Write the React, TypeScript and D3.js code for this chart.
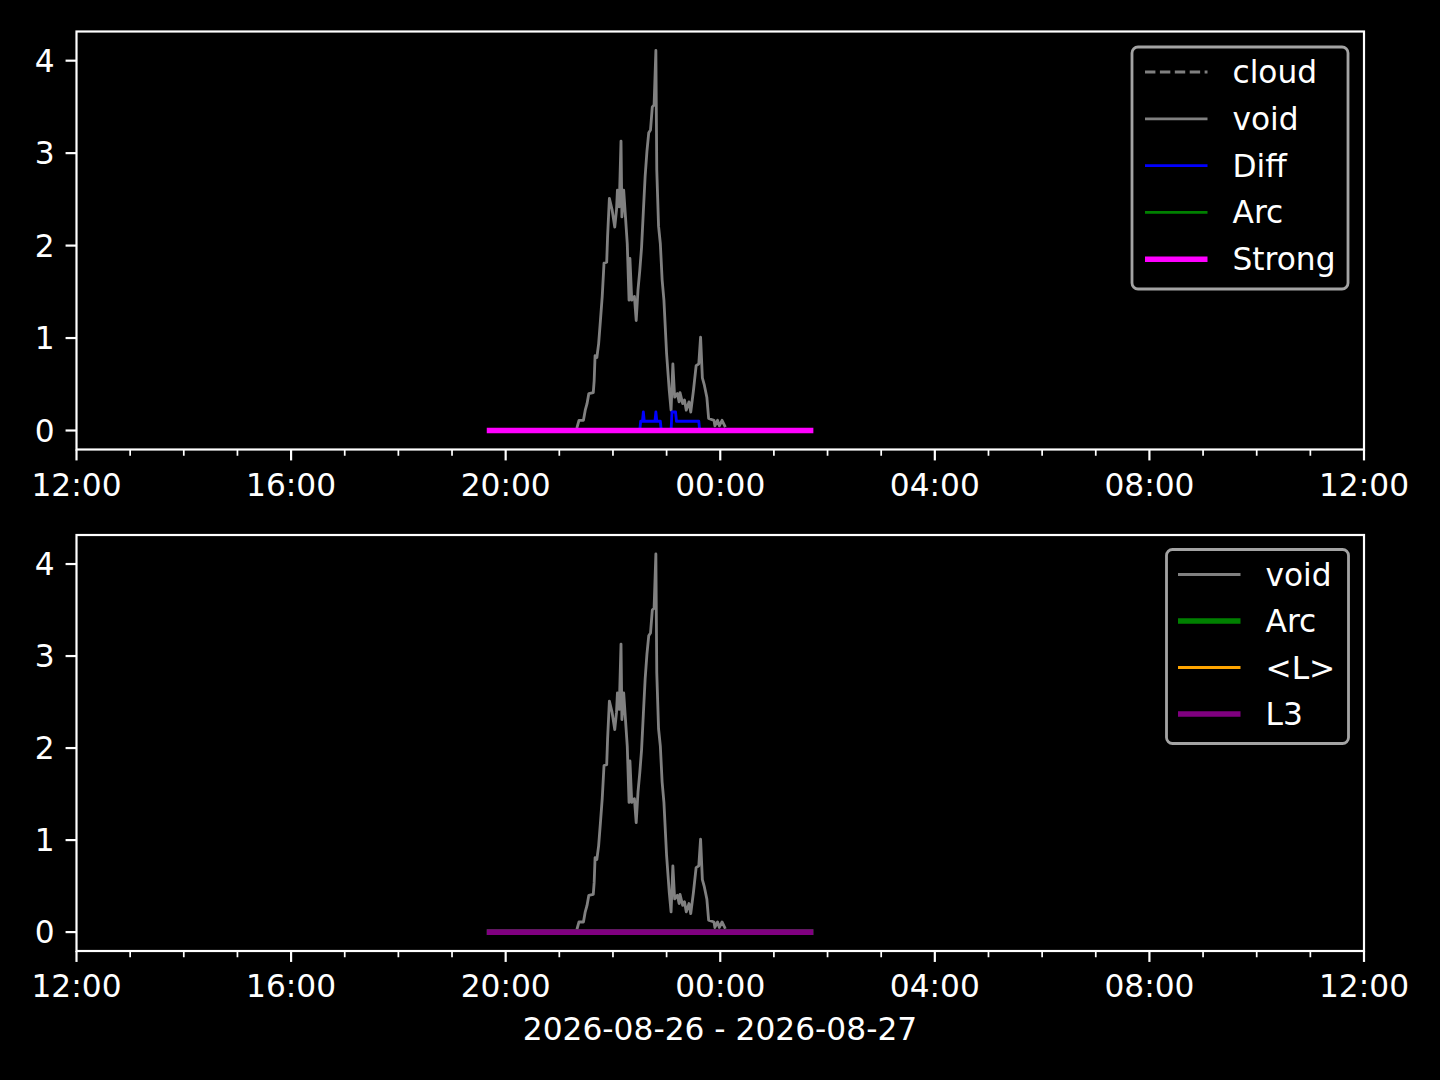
import * as d3 from 'd3';

// time of day, rolled to the next day when before noon
const DAY0 = '2026-08-26';
const DAY1 = '2026-08-27';
const parse = d3.timeParse('%Y-%m-%d %H:%M');
const at = (hm: string) => parse(`${+hm.slice(0, 2) < 12 ? DAY1 : DAY0} ${hm}`) as Date;

const xStart = '12:00';
const xEnd = '12:00';
const xTickLabels = ['12:00', '16:00', '20:00', '00:00', '04:00', '08:00', '12:00'];
const yTicks = [0, 1, 2, 3, 4];
const xLabel = '2026-08-26 - 2026-08-27';

const voidTimes = [
    '21:20', '21:22', '21:27', '21:29', '21:31', '21:33', '21:38', '21:39', '21:40', '21:42',
    '21:44', '21:46', '21:48', '21:50', '21:53', '21:54', '21:56', '21:59', '22:02', '22:04',
    '22:05', '22:07', '22:09', '22:10', '22:12', '22:14', '22:16', '22:18', '22:19', '22:21',
    '22:24', '22:26', '22:28', '22:30', '22:32', '22:34', '22:36', '22:38', '22:40', '22:42',
    '22:44', '22:46', '22:48', '22:49', '22:51', '22:53', '22:55', '22:57', '23:00', '23:03',
    '23:05', '23:07', '23:09', '23:12', '23:14', '23:15', '23:18', '23:20', '23:22', '23:25',
    '23:27', '23:30', '23:33', '23:36', '23:38', '23:40', '23:42', '23:45', '23:47', '23:53',
    '23:54', '23:57', '23:59', '00:02', '00:05',
];
const voidValues = [
    0.04, 0.11, 0.11, 0.22, 0.29, 0.4, 0.41, 0.54, 0.81, 0.79,
    0.94, 1.19, 1.45, 1.81, 1.82, 2.1, 2.51, 2.39, 2.2, 2.39,
    2.6, 2.42, 3.13, 2.31, 2.6, 2.31, 2.02, 1.41, 1.86, 1.41,
    1.45, 1.19, 1.52, 1.73, 1.98, 2.37, 2.75, 3.02, 3.22, 3.25,
    3.5, 3.52, 4.11, 2.82, 2.21, 2.02, 1.63, 1.41, 0.83, 0.43,
    0.22, 0.72, 0.36, 0.4, 0.31, 0.41, 0.29, 0.33, 0.22, 0.31,
    0.2, 0.43, 0.7, 0.72, 1.01, 0.57, 0.5, 0.36, 0.13, 0.11,
    0.05, 0.11, 0.05, 0.11, 0.05,
];

const diffTimes = [
    '19:42', '22:30', '22:31', '22:33', '22:34', '22:35', '22:47', '22:48', '22:49', '22:53',
    '22:54', '23:05', '23:06', '23:10', '23:11', '23:36', '23:37', '01:41',
];
const diffValues = [0, 0, 0.1, 0.1, 0.2, 0.1, 0.1, 0.2, 0.1, 0.1, 0, 0, 0.2, 0.2, 0.1, 0.1, 0, 0];

const flatTimes = ['19:42', '01:41'];
const cloudValues = [0, 0];
const arcValues = [0, 0];
const strongValues = [0, 0];
const lAvgValues = [0, 0];
const l3Values = [0, 0];

type Series = { name: string; times: string[]; values: number[] };

const topSeries: Series[] = [
    { name: 'cloud', times: flatTimes, values: cloudValues },
    { name: 'void', times: voidTimes, values: voidValues },
    { name: 'Diff', times: diffTimes, values: diffValues },
    { name: 'Arc', times: flatTimes, values: arcValues },
    { name: 'Strong', times: flatTimes, values: strongValues },
];
const bottomSeries: Series[] = [
    { name: 'void', times: voidTimes, values: voidValues },
    { name: 'Arc', times: flatTimes, values: arcValues },
    { name: '<L>', times: flatTimes, values: lAvgValues },
    { name: 'L3', times: flatTimes, values: l3Values },
];

const PT = 225 / 72;
const FONT = 'DejaVu Sans';
const FS = 10 * PT;

const topStyle: Record<string, { color: string; lw: number; dash?: string }> = {
    cloud: { color: '#808080', lw: 0.9, dash: `${3.7 * 0.9 * PT},${1.6 * 0.9 * PT}` },
    void: { color: '#808080', lw: 0.9 },
    Diff: { color: '#0000ff', lw: 0.9 },
    Arc: { color: '#008000', lw: 0.9 },
    Strong: { color: '#ff00ff', lw: 1.8 },
};
const bottomStyle: Record<string, { color: string; lw: number; dash?: string }> = {
    void: { color: '#808080', lw: 0.9 },
    Arc: { color: '#008000', lw: 1.8 },
    '<L>': { color: '#ffa500', lw: 0.9 },
    L3: { color: '#800080', lw: 1.8 },
};

const x = d3
    .scaleTime()
    .domain([parse(`${DAY0} ${xStart}`) as Date, parse(`${DAY1} ${xEnd}`) as Date])
    .range([76.5, 1364]);

const yMax = d3.max(voidValues) ?? 1;
const yMin = 0;
const pad = (yMax - yMin) * 0.05;

function Panel({
    top,
    bottom,
    series,
    styles,
    legend,
}: {
    top: number;
    bottom: number;
    series: Series[];
    styles: typeof topStyle;
    legend: { x0: number; x1: number; y0: number; rowH: number; width: number };
}) {
    const y = d3.scaleLinear().domain([yMin - pad, yMax + pad]).range([bottom, top]);
    const line = d3
        .line<[Date, number]>()
        .x((d) => x(d[0]))
        .y((d) => y(d[1]));
    const [xa, xb] = x.range();
    const majors = xTickLabels.map((_, i) => d3.timeHour.offset(x.domain()[0], i * 4));
    const minors = d3.timeHour.range(x.domain()[0], x.domain()[1]).filter((t) => t.getHours() % 4 !== 0);
    const lg = legend;
    const lgH = series.length * lg.rowH + 8;
    return (
        <g>
            {series.map((s) => {
                const st = styles[s.name];
                const pts = s.times.map((t, i) => [at(t), s.values[i]] as [Date, number]);
                return (
                    <path
                        key={s.name}
                        d={line(pts) ?? ''}
                        fill="none"
                        stroke={st.color}
                        strokeWidth={st.lw * PT}
                        strokeDasharray={st.dash}
                        strokeLinejoin="round"
                        strokeLinecap={st.dash ? 'butt' : 'square'}
                    />
                );
            })}
            <rect x={xa} y={top} width={xb - xa} height={bottom - top} fill="none" stroke="#fff" strokeWidth={0.7 * PT} />
            {yTicks.map((v) => (
                <g key={v}>
                    <line x1={xa} x2={xa - 3.5 * PT} y1={y(v)} y2={y(v)} stroke="#fff" strokeWidth={0.7 * PT} />
                    <text x={xa - 7 * PT} y={y(v) + 11} textAnchor="end" fill="#fff" fontFamily={FONT} fontSize={FS}>
                        {v}
                    </text>
                </g>
            ))}
            {majors.map((t, i) => (
                <g key={i}>
                    <line x1={x(t)} x2={x(t)} y1={bottom} y2={bottom + 3.5 * PT} stroke="#fff" strokeWidth={0.7 * PT} />
                    <text x={x(t)} y={bottom + 46} textAnchor="middle" fill="#fff" fontFamily={FONT} fontSize={FS}>
                        {xTickLabels[i]}
                    </text>
                </g>
            ))}
            {minors.map((t, i) => (
                <line key={i} x1={x(t)} x2={x(t)} y1={bottom} y2={bottom + 2 * PT} stroke="#fff" strokeWidth={0.55 * PT} />
            ))}
            <rect
                x={lg.x0}
                y={lg.y0}
                width={lg.width}
                height={lgH}
                rx={6}
                fill="#000"
                fillOpacity={0.8}
                stroke="#a3a3a3"
                strokeWidth={0.9 * PT}
            />
            {series.map((s, i) => {
                const st = styles[s.name];
                const cy = lg.y0 + 25 + i * lg.rowH;
                return (
                    <g key={s.name}>
                        <line
                            x1={lg.x1}
                            x2={lg.x1 + 20 * PT}
                            y1={cy}
                            y2={cy}
                            stroke={st.color}
                            strokeWidth={st.lw * PT}
                            strokeDasharray={st.dash}
                        />
                        <text x={lg.x1 + 28 * PT} y={cy + 11} fill="#fff" fontFamily={FONT} fontSize={FS}>
                            {s.name}
                        </text>
                    </g>
                );
            })}
        </g>
    );
}

export default function App() {
    return (
        <svg
            width={1440}
            height={1080}
            style={{ position: 'absolute', left: 0, top: 0, background: '#000' }}
        >
            <rect width={1440} height={1080} fill="#000" />
            <Panel
                top={31.5}
                bottom={449.5}
                series={topSeries}
                styles={topStyle}
                legend={{ x0: 1132, x1: 1145, y0: 47, rowH: 46.8, width: 216 }}
            />
            <Panel
                top={535}
                bottom={951}
                series={bottomSeries}
                styles={bottomStyle}
                legend={{ x0: 1166.5, x1: 1178, y0: 549.5, rowH: 46.5, width: 182 }}
            />
            <text x={720} y={1040} textAnchor="middle" fill="#fff" fontFamily={FONT} fontSize={FS}>
                {xLabel}
            </text>
        </svg>
    );
}
